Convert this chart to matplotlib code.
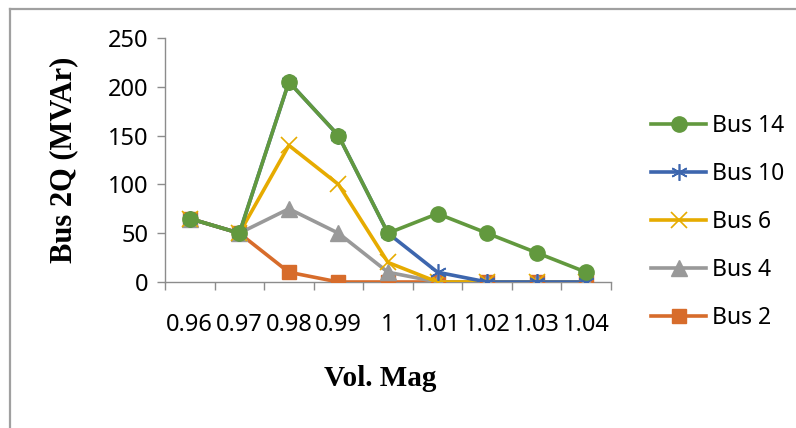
import matplotlib
matplotlib.use("Agg")
import matplotlib.pyplot as plt
from matplotlib.lines import Line2D

plt.rcParams["font.family"] = ["Noto Sans", "DejaVu Sans"]

# data
vol_mag = ["0.96", "0.97", "0.98", "0.99", "1", "1.01", "1.02", "1.03", "1.04"]
bus14 = [65, 50, 205, 150, 50, 70, 50, 30, 10]
bus10 = [65, 50, 205, 150, 50, 10, 0, 0, 0]
bus6 = [65, 50, 140, 100, 20, 0, 0, 0, 0]
bus4 = [65, 50, 75, 50, 10, 0, 0, 0, 0]
bus2 = [65, 50, 10, 0, 0, 0, 0, 0, 0]
y_ticks = [0, 50, 100, 150, 200, 250]

C_GREEN = "#62993e"; C_BLUE = "#3d66ae"; C_YEL = "#e6ab00"
C_GRAY = "#999999"; C_ORG = "#d76c2b"; C_AX = "#8c8c8c"

fig = plt.figure(figsize=(7.96, 4.28), dpi=100)
ax = fig.add_axes([165/796, 1-282/428, 446/796, 244/428])

x = list(range(len(vol_mag)))
lw = 2.6
# draw order as in Excel (Bus 2 first, Bus 14 on top)
h2, = ax.plot(x, bus2, color=C_ORG, lw=lw, marker="s", ms=10, label="Bus 2", zorder=3)
h4, = ax.plot(x, bus4, color=C_GRAY, lw=lw, marker="^", ms=11, label="Bus 4", zorder=4)
h6, = ax.plot(x, bus6, color=C_YEL, lw=lw, marker="x", ms=11, mew=1.2, label="Bus 6", zorder=5)
h10, = ax.plot(x, bus10, color=C_BLUE, lw=lw, marker=(6, 2, 0), ms=12, mew=1.2, label="Bus 10", zorder=6)
h14, = ax.plot(x, bus14, color=C_GREEN, lw=lw, marker="o", ms=11, label="Bus 14", zorder=7)

ax.set_xlim(-0.5, len(vol_mag) - 0.5)
ax.set_ylim(0, 250)
ax.set_yticks(y_ticks)
ax.tick_params(axis="y", labelsize=17, length=6, width=1, color=C_AX, pad=6)
ax.set_xticks(x)
ax.set_xticklabels(vol_mag)
ax.set_xticks([i - 0.5 for i in range(len(vol_mag) + 1)], minor=True)
ax.tick_params(axis="x", which="major", length=0, labelsize=17, pad=22)
ax.tick_params(axis="x", which="minor", length=6, width=1, color=C_AX)
for s in ["top", "right"]:
    ax.spines[s].set_visible(False)
for s in ["left", "bottom"]:
    ax.spines[s].set_color(C_AX)
    ax.spines[s].set_linewidth(1)

fig.text(380/796, 1-378/428, "Vol. Mag", ha="center", va="center",
         fontsize=21, fontweight="bold", family="Liberation Serif")
fig.text(64/796, 1-160/428, "Bus 2Q (MVAr)", ha="center", va="center", rotation=90,
         fontsize=22, fontweight="bold", family="Liberation Serif")

fig.legend(handles=[h14, h10, h6, h4, h2], loc="upper left",
           bbox_to_anchor=(651/796, 1-114/428), frameon=False, fontsize=16.5,
           handlelength=2.4, handletextpad=0.25, labelspacing=1.05, borderpad=0,
           borderaxespad=0)

# outer chart border (only top and left visible in the crop)
fig.add_artist(Line2D([10/796, 10/796], [0, 1-9/428], color="#a0a0a0", lw=1.6))
fig.add_artist(Line2D([10/796, 1], [1-9/428, 1-9/428], color="#a0a0a0", lw=1.6))

fig.savefig("out.png", dpi=100)
